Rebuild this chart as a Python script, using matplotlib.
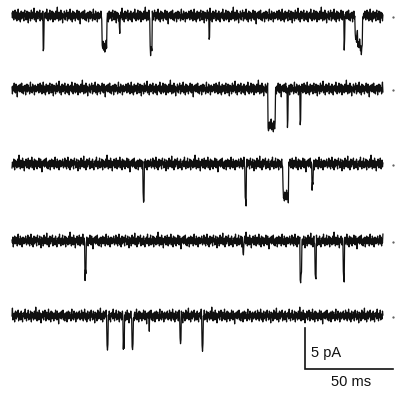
"""Five single-channel current traces with scale bar."""

import matplotlib

matplotlib.use("Agg")
import matplotlib.pyplot as plt
import numpy as np

# events per trace: (start ms, duration ms, amplitude pA), downward openings
TRACE1_EVENTS = [(17.6, 0.6, 4.0), (51.1, 2.8, 3.8), (60.8, 0.5, 2.0), (78.4, 1.2, 4.0),
                 (111.9, 0.5, 2.6), (188.6, 0.6, 3.2), (194.9, 1.5, 2.6), (196.4, 1.5, 3.4),
                 (197.9, 1.3, 4.0)]
TRACE2_EVENTS = [(145.5, 4.0, 4.5), (156.3, 0.6, 4.1), (163.6, 0.6, 4.0)]
TRACE3_EVENTS = [(74.4, 0.8, 4.3), (132.4, 0.6, 4.4), (154.0, 3.0, 3.9), (170.5, 0.5, 2.6)]
TRACE4_EVENTS = [(41.5, 0.5, 4.1), (131.2, 0.4, 1.7), (163.6, 1.0, 4.5), (172.2, 0.7, 4.5),
                 (188.1, 0.7, 4.4)]
TRACE5_EVENTS = [(54.0, 0.7, 3.8), (63.1, 0.7, 3.7), (68.2, 0.7, 4.1), (77.8, 0.4, 1.5),
                 (95.5, 0.5, 2.9), (108.0, 0.7, 3.7)]
ALL_EVENTS = [TRACE1_EVENTS, TRACE2_EVENTS, TRACE3_EVENTS, TRACE4_EVENTS, TRACE5_EVENTS]

# baseline noise read as a hand sample, tenths of pA
NOISE_TENTHS = [
    3, -2, 5, 1, -4, 2, -1, 6, -3, 0, 4, -5, 2, -2, 7, -1, -4, 3, 0, -6,
    2, 5, -3, 1, -1, 4, -2, -5, 3, 6, -1, 2, -4, 0, 5, -3, 1, -7, 4, 2,
    -2, 3, -5, 1, 6, -1, -3, 4, -2, 0, 8, -4, 2, -1, 3, -6, 1, 5, -2, -3,
    4, 0, -1, 6, -5, 2, -3, 3, 1, -4, 5, -2, 0, -6, 3, 2, -1, 4, -3, 7,
    -2, 1, -5, 3, 0, -2, 6, -4, 2, -1, -3, 5, 1, -6, 4, -2, 3, 0, -4, 2,
    5, -1, -3, 9, -2, 1, -5, 4, -1, 2, -4, 6, 0, -3, 3, -7, 2, 1, -2, 5,
    -1, -4, 3, 0, 6, -2, -5, 2, 4, -3, 1, -1, 7, -4, 0, 3, -2, -6, 5, 1,
    -3, 4, -1, 2, -5, 3, 0, -2, 6, -3, 1, -4, 5, -1, 2, -8, 3, 0, -2, 4,
    1, -3, 5, -2, -1, 6, -4, 2, 0, -5, 3, 1, -2, 4, -6, 2, -1, 5, -3, 0,
    4, -2, 1, -5, 3, 7, -3, -1, 2, -4, 5, 0, -2, 3, -6, 1, 4, -1, -3, 2,
]

TRACE_DURATION_MS = 211.0
SAMPLE_MS = 0.25
SCALE_PA = 5
SCALE_MS = 50

# layout in figure pixels
PX_PER_MS = 1.76
PX_PER_PA = 8.2
X0_PX = 12
BASELINES_PX = [16, 89, 164, 241, 316]
NOISE_SHIFT = [0, 57, 113, 29, 151]
W, H = 395, 394


def build_trace(events, shift):
    t = np.arange(0.0, TRACE_DURATION_MS, SAMPLE_MS)
    noise = np.roll(np.array(NOISE_TENTHS, dtype=float), shift) * 0.12
    y = np.resize(noise, t.size)
    for start, dur, amp in events:
        mask = (t >= start) & (t <= start + dur)
        y[mask] -= amp
    return t, y


def main():
    plt.rcParams["font.family"] = ["Liberation Sans", "DejaVu Sans"]
    fig = plt.figure(figsize=(W / 100, H / 100), dpi=100)
    ax = fig.add_axes([0, 0, 1, 1])
    ax.set_xlim(-X0_PX / PX_PER_MS, (W - X0_PX) / PX_PER_MS)
    ax.set_ylim(-H / PX_PER_PA, 0)
    ax.axis("off")

    for events, base_px, shift in zip(ALL_EVENTS, BASELINES_PX, NOISE_SHIFT):
        t, y = build_trace(events, shift)
        ax.plot(t, y - base_px / PX_PER_PA, color="#101010", linewidth=0.9)
        ax.plot((W - 2 - X0_PX) / PX_PER_MS, -(base_px + 1) / PX_PER_PA, ".",
                color="#555555", markersize=1.2)

    # scale bar
    bx = (305 - X0_PX) / PX_PER_MS
    by = -369 / PX_PER_PA
    ax.plot([bx, bx, bx + SCALE_MS], [by + SCALE_PA, by, by], color="#111111",
            linewidth=1.2, solid_joinstyle="miter")
    ax.text(bx + 3.5, by + SCALE_PA * 0.4, f"{SCALE_PA} pA", fontsize=10.5, ha="left",
            va="center", color="#111111")
    ax.text(bx + SCALE_MS * 0.52, -382 / PX_PER_PA, f"{SCALE_MS} ms", fontsize=10.5,
            ha="center", va="center", color="#111111")

    fig.savefig("out.png", dpi=100, facecolor="white")
    plt.close(fig)


if __name__ == "__main__":
    main()
